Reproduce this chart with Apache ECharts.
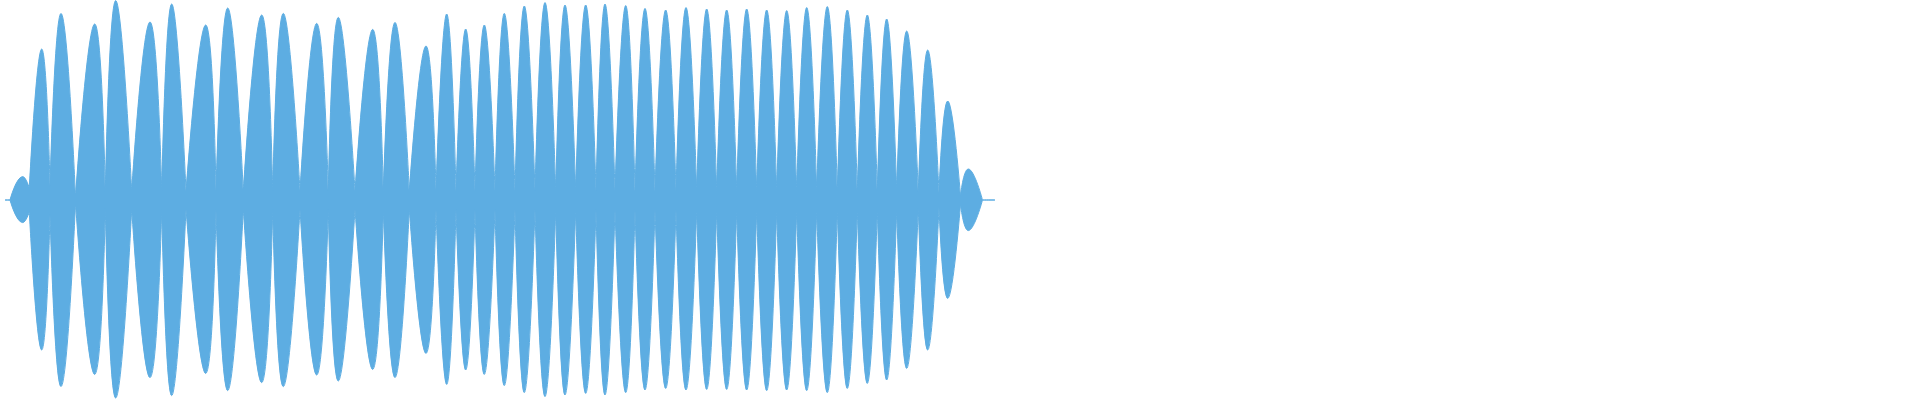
<!DOCTYPE html>
<html>
<head>
<meta charset="utf-8">
<script src="https://cdn.jsdelivr.net/npm/echarts@6/dist/echarts.min.js"></script>
<style>
  html, body { margin: 0; padding: 0; background: #ffffff; }
  #chart { width: 1920px; height: 400px; }
</style>
</head>
<body>
<div id="chart"></div>
<script>
// Time positions (samples) of the envelope lobes
const startTime = 5;
const endTime = 995;
const junctions = [10, 29.3, 50, 75.5, 105.3, 131.7, 161.7, 186, 216, 243.3, 272.7, 300, 328.3, 355, 383.3, 409.3, 436, 456, 475, 495, 515, 535, 555.7, 575.7, 596, 615, 635, 655, 676, 696.7, 716.7, 736.7, 756.7, 776.7, 796.7, 816.7, 837.3, 857.3, 877.3, 896.7, 918.3, 939, 960.5, 982.5];
const junctionLevels = [0, 0.06, 0.07, 0.015, 0.04, 0.045, 0.045, 0.045, 0.045, 0.045, 0.045, 0.045, 0.045, 0.045, 0.045, 0.045, 0.045, 0.045, 0.045, 0.045, 0.045, 0.045, 0.045, 0.045, 0.045, 0.045, 0.045, 0.045, 0.045, 0.045, 0.045, 0.045, 0.045, 0.045, 0.045, 0.045, 0.045, 0.045, 0.045, 0.045, 0.04, 0.035, 0.02, 0];
const peakTimes = [22.7, 41.7, 61, 94.7, 115.7, 150, 171.7, 205.7, 227.7, 261.7, 283.3, 316.7, 338.3, 372.7, 395, 426, 446.7, 465.7, 484.3, 504.3, 524.3, 545, 565, 585.7, 605, 625.7, 645, 665.7, 686, 706.7, 726.7, 746.7, 766.7, 786.7, 806.7, 827.3, 847.3, 867.3, 886.7, 906.7, 927.7, 947.7, 968.3];
const upperPeaks = [0.117, 0.755, 0.933, 0.88, 0.997, 0.89, 0.98, 0.875, 0.96, 0.925, 0.933, 0.883, 0.913, 0.853, 0.888, 0.77, 0.93, 0.855, 0.875, 0.933, 0.97, 0.987, 0.975, 0.975, 0.98, 0.972, 0.958, 0.95, 0.962, 0.955, 0.95, 0.955, 0.95, 0.947, 0.962, 0.967, 0.95, 0.925, 0.905, 0.845, 0.75, 0.495, 0.155];
const lowerPeaks = [0.113, 0.75, 0.933, 0.872, 0.99, 0.888, 0.978, 0.867, 0.953, 0.913, 0.933, 0.875, 0.905, 0.847, 0.888, 0.767, 0.922, 0.85, 0.872, 0.928, 0.963, 0.983, 0.975, 0.967, 0.975, 0.963, 0.95, 0.942, 0.95, 0.947, 0.947, 0.95, 0.953, 0.95, 0.953, 0.963, 0.942, 0.917, 0.9, 0.842, 0.75, 0.492, 0.153];

// Each lobe is its own smoothed segment (separated by an empty point)
function buildEnvelope(peaks, sign) {
  const last = junctions.length - 1;
  const pts = [[startTime, 0], [junctions[0], 0], [junctions[0], '-']];
  for (let i = 0; i < peaks.length; i++) {
    pts.push([junctions[i], sign * junctionLevels[i]]);
    pts.push([peakTimes[i], sign * peaks[i]]);
    pts.push([junctions[i + 1], sign * junctionLevels[i + 1]]);
    pts.push([junctions[i + 1], '-']);
  }
  pts.push([junctions[last], 0], [endTime, 0]);
  return pts;
}

const color = '#5dade2';
const chart = echarts.init(document.getElementById('chart'), null, { renderer: 'canvas' });
const common = {
  type: 'line', smooth: 0.5, connectNulls: false,
  showSymbol: false, lineStyle: { color: color, width: 1 },
  areaStyle: { color: color, opacity: 1 }, itemStyle: { color: color }
};
chart.setOption({
  animation: false,
  backgroundColor: '#ffffff',
  grid: { left: 0, right: 0, top: 0, bottom: 0 },
  xAxis: { type: 'value', min: 0, max: 1920, show: false },
  yAxis: { type: 'value', min: -1, max: 1, show: false },
  series: [
    Object.assign({ data: buildEnvelope(upperPeaks, 1) }, common),
    Object.assign({ data: buildEnvelope(lowerPeaks, -1) }, common)
  ]
});
</script>
</body>
</html>
